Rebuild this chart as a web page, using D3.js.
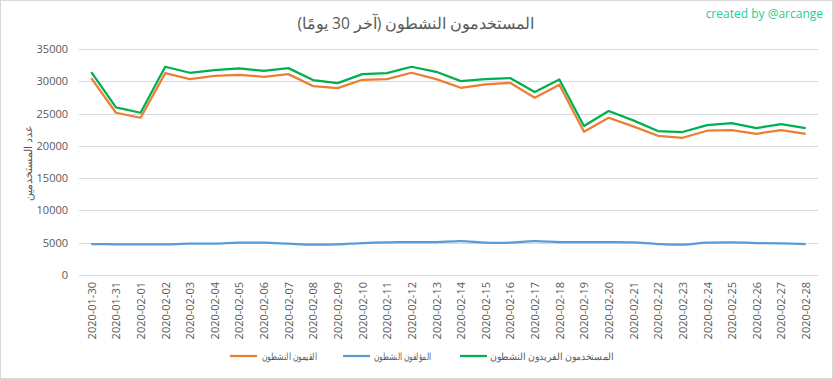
<!DOCTYPE html>
<html><head><meta charset="utf-8">
<script src="https://cdn.jsdelivr.net/npm/d3@7"></script>
<style>
html,body{margin:0;padding:0;background:#fff;}
svg{display:block;}
text{font-family:"Open Sans","Liberation Sans",sans-serif;}
</style></head>
<body><svg id="c" width="833" height="379"></svg>
<script>
const dates = ["2020-01-30","2020-01-31","2020-02-01","2020-02-02","2020-02-03","2020-02-04","2020-02-05","2020-02-06","2020-02-07","2020-02-08","2020-02-09","2020-02-10","2020-02-11","2020-02-12","2020-02-13","2020-02-14","2020-02-15","2020-02-16","2020-02-17","2020-02-18","2020-02-19","2020-02-20","2020-02-21","2020-02-22","2020-02-23","2020-02-24","2020-02-25","2020-02-26","2020-02-27","2020-02-28"];
const curators = [30500,25130,24350,31270,30340,30850,31010,30700,31110,29260,28950,30230,30340,31320,30340,28990,29510,29770,27450,29460,22190,24350,23020,21560,21250,22340,22450,21870,22450,21870];
const authors = [4800,4750,4750,4750,4850,4850,5000,5000,4850,4700,4750,4950,5060,5100,5100,5260,5000,5000,5260,5100,5100,5100,5060,4800,4700,5000,5050,4950,4900,4800];
const uniqueUsers = [31420,25960,25130,32250,31320,31740,32000,31630,32040,30190,29720,31110,31270,32250,31470,30030,30340,30500,28330,30290,23070,25390,23950,22290,22140,23220,23530,22760,23370,22760];
const yTicks = [0,5000,10000,15000,20000,25000,30000,35000];
const seriesNames = ["القيمون النشطون","المؤلفون النشطون","المستخدمون الفريدون النشطون"];
const title = "المستخدمون النشطون (آخر 30 يومًا)";
const yTitle = "عدد المستخدمين";
const credit = "created by @arcange";

const svg = d3.select("#c");
const gray = "#595959";
svg.append("rect").attr("x",0.5).attr("y",0.5).attr("width",832).attr("height",378)
  .attr("fill","#fff").attr("stroke","#d9d9d9");

const x = d3.scalePoint().domain(dates).range([79,818]).padding(0.5);
const y = d3.scaleLinear().domain([0,35000]).range([275,49]);

// gridlines
svg.append("g").selectAll("line").data(yTicks).join("line")
  .attr("x1",79).attr("x2",818)
  .attr("y1",d=>Math.round(y(d))+0.5).attr("y2",d=>Math.round(y(d))+0.5)
  .attr("stroke","#d9d9d9").attr("stroke-width",1);

// y axis labels
const yAxis = d3.axisLeft(y).tickValues(yTicks).tickSize(0).tickPadding(0).tickFormat(d3.format("d"));
const gy = svg.append("g").attr("transform","translate(68,0)").call(yAxis);
gy.select(".domain").remove();
gy.selectAll("text").attr("fill",gray).style("font-size","11px").attr("font-family","'Open Sans',sans-serif");

// x axis labels
const xAxis = d3.axisBottom(x).tickSize(0).tickPadding(0);
const gx = svg.append("g").attr("transform","translate(0,282)").call(xAxis);
gx.select(".domain").remove();
gx.selectAll("text").attr("fill",gray).style("font-size","11px").attr("font-family","'Open Sans',sans-serif")
  .attr("text-anchor","end").attr("dy","0.35em").attr("dx",0).attr("y",0)
  .attr("transform","rotate(-90)");

// lines
const straight = d3.line().x((d,i)=>x(dates[i])).y(d=>y(d));
const smooth = d3.line().x((d,i)=>x(dates[i])).y(d=>y(d)).curve(d3.curveCatmullRom.alpha(0.5));
const colors = ["#ED7D31","#5B9BD5","#00B050"];
svg.append("path").datum(authors).attr("d",smooth).attr("fill","none").attr("stroke",colors[1]).attr("stroke-width",2.25).attr("stroke-linejoin","round");
svg.append("path").datum(curators).attr("d",straight).attr("fill","none").attr("stroke",colors[0]).attr("stroke-width",2.25).attr("stroke-linejoin","round");
svg.append("path").datum(uniqueUsers).attr("d",straight).attr("fill","none").attr("stroke",colors[2]).attr("stroke-width",2.25).attr("stroke-linejoin","round");

// title
svg.append("text").attr("x",416).attr("y",29).attr("text-anchor","middle")
  .attr("fill",gray).style("font-size","15.5px")
  .text(title);
// credit
svg.append("text").attr("x",823).attr("y",18).attr("text-anchor","end")
  .attr("fill","#22cc98").style("font-size","12px").text(credit);
// y title
svg.append("text").attr("transform","translate(32,163) rotate(-90)").attr("text-anchor","middle")
  .attr("fill",gray).style("font-size","11px").text(yTitle);

// legend
const legendX = [[230,262,55],[343,374,57],[460,490,124]];
const lg = svg.append("g");
seriesNames.forEach((n,i)=>{
  lg.append("line").attr("x1",legendX[i][0]).attr("x2",legendX[i][0]+27).attr("y1",356).attr("y2",356)
    .attr("stroke",colors[i]).attr("stroke-width",2.25);
  lg.append("text").attr("x",legendX[i][1]).attr("y",359.5).attr("fill",gray).style("font-size","10px")
    .attr("textLength",legendX[i][2]).attr("lengthAdjust","spacingAndGlyphs")
    .attr("text-anchor","start").text(n);
});
</script></body></html>
